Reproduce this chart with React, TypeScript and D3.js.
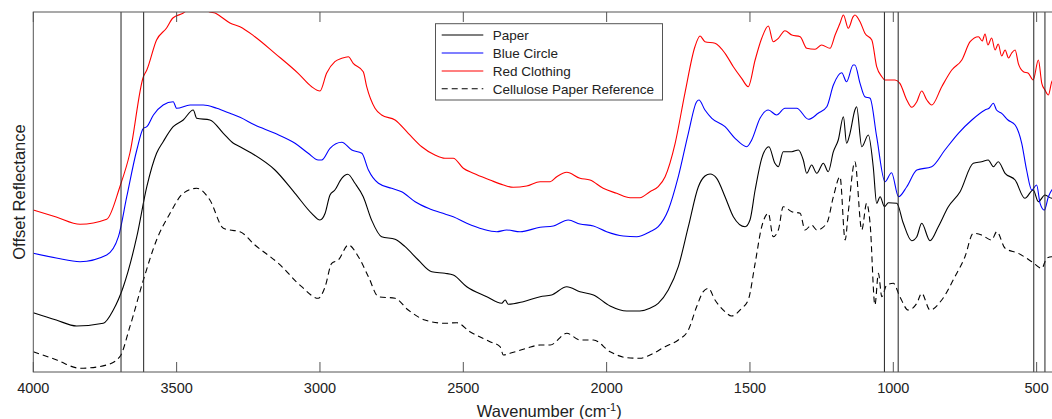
import React from 'react';
import * as d3 from 'd3';

type Pt = [number, number];

const xTicks = [4000, 3500, 3000, 2500, 2000, 1500, 1000, 500];
const markerLines = [3694, 3615, 1031, 983, 510, 471];
const seriesNames = ['Paper', 'Blue Circle', 'Red Clothing', 'Cellulose Paper Reference'];

const redClothing: Pt[] = [[4000,162],[3920,155],[3837,147.7],[3744,152.7],[3698,185.3],[3663,219],[3616,295.3],[3604,302],[3570,332],[3535,344],[3513,354],[3478,358.7],[3450,364],[3430,361],[3410,366],[3385,360],[3366,359],[3349,356],[3314,349],[3279,345.3],[3227,335.3],[3157,318.7],[3076,298.7],[3029,285.3],[3000,281],[2977,298.7],[2948,310.3],[2924,313.7],[2901,315.3],[2884,308.7],[2849,300.3],[2837,285.3],[2808,263.7],[2785,257],[2738,252],[2692,238.7],[2645,225.3],[2599,217],[2564,213.7],[2535,213.7],[2500,203.7],[2465,198.7],[2407,192],[2360,187],[2326,184.7],[2279,186],[2232,190.3],[2197,190.3],[2174,195.3],[2139,199.7],[2093,193.7],[2058,192],[2012,183.7],[1965,178.7],[1918,174.3],[1884,174.3],[1849,180.3],[1820,185.3],[1796,195.3],[1761,228.7],[1727,278.7],[1692,325.3],[1674,336],[1657,330.3],[1622,328.7],[1587,318.7],[1558,305.3],[1529,293.7],[1506,285.3],[1482,312],[1459,333.7],[1436,346],[1419,330.3],[1401,333.7],[1378,341.3],[1354,337],[1325,335.3],[1302,323.7],[1273,322.7],[1250,327],[1221,323.7],[1203,337],[1186,348.7],[1174,357],[1157,343.7],[1140,355.3],[1134,357],[1116,350.3],[1099,338.7],[1075,332],[1058,305.3],[1040,295.3],[1029,292],[994,292],[977,288.7],[953,272],[936,264.7],[918,270.3],[901,281],[883,272],[866,267],[831,285.3],[796,302],[761,312],[732,330.3],[703,335.3],[690,331],[680,338],[670,327],[657,334],[645,322],[634,328],[622,316],[610,322],[598,314],[587,319],[575,322],[564,308.7],[546,300.3],[529,298.7],[512,292],[494,312],[482,288.7],[471,282],[459,277],[447,290.3],[430,295]];

const blueCircle: Pt[] = [[4000,118.7],[3920,114],[3837,110.3],[3744,117],[3703,135.3],[3674,175.3],[3639,222],[3616,243.7],[3604,245.3],[3581,257],[3547,267],[3512,270.3],[3500,263.7],[3453,267],[3407,267],[3360,263.7],[3314,258.7],[3279,254.7],[3227,247],[3157,238.7],[3087,228.7],[3041,218.7],[3006,212],[2994,212],[2965,223.7],[2924,229.7],[2889,222],[2854,218.7],[2831,202],[2796,188.7],[2750,183.7],[2715,180.3],[2668,170.3],[2622,163.7],[2564,158],[2535,155.3],[2488,148.7],[2430,142.7],[2383,140.3],[2349,142],[2302,140.3],[2232,144.7],[2186,146],[2134,152],[2093,148],[2046,146],[2000,140.3],[1942,136],[1895,135.3],[1849,140.3],[1820,145.3],[1785,162],[1750,195.3],[1715,238.7],[1686,270.3],[1678,272],[1657,262],[1633,253.7],[1587,245.3],[1552,233.7],[1511,225.3],[1494,232],[1465,253.7],[1436,262],[1407,257],[1378,263.7],[1337,263.7],[1296,252.7],[1262,258.7],[1232,265.3],[1209,287],[1180,299.3],[1163,290.3],[1140,307],[1134,307],[1116,288.7],[1099,275.3],[1081,273.7],[1058,235.3],[1029,190.3],[1006,199.3],[982,175.3],[953,185.3],[918,202],[866,205.3],[820,222],[773,238.7],[726,252],[680,262],[665,264],[651,268.7],[640,262],[622,258.7],[600,252],[575,247],[552,228.7],[535,202],[517,182],[500,187],[488,168.7],[473,162],[459,175.3],[447,182],[430,185]];

const paper: Pt[] = [[4000,59.3],[3920,52],[3849,46],[3756,48.7],[3721,62],[3686,85.3],[3639,135.3],[3604,185.3],[3570,218.7],[3547,230.3],[3512,245.3],[3477,252],[3442,262],[3430,253.7],[3384,252],[3337,238.7],[3302,228.7],[3279,225.3],[3238,218.7],[3157,202],[3087,178.7],[3029,158.7],[3000,152],[2982,158.7],[2965,177],[2948,182],[2924,193.7],[2903,197.7],[2878,188.7],[2849,175.3],[2820,152],[2785,135.3],[2738,132.7],[2703,125.3],[2657,112],[2610,100.3],[2564,98.7],[2535,97],[2488,85.3],[2418,75.3],[2366,68.7],[2354,72],[2343,67.7],[2291,70.3],[2232,75.3],[2192,77],[2139,85.3],[2093,80.3],[2046,77],[1988,66],[1930,61],[1884,61],[1849,63.7],[1820,68.7],[1785,82],[1750,105.3],[1715,145.3],[1680,185.3],[1657,196],[1639,198],[1616,193.7],[1587,175.3],[1558,155.3],[1517,145.3],[1500,152],[1482,182],[1459,213.7],[1434,225.3],[1413,208.7],[1401,205.3],[1384,220.3],[1354,220.3],[1331,222],[1314,212],[1302,198.7],[1285,207],[1267,198.7],[1244,208.7],[1227,200.3],[1209,220.3],[1192,232],[1174,255.3],[1163,228.7],[1151,238.7],[1134,262],[1128,265.3],[1110,225.3],[1087,237],[1070,205.3],[1058,168.7],[1046,175.3],[1031,165.3],[1017,169.3],[988,168.7],[965,148.7],[936,131.3],[918,135.3],[901,148.7],[872,131.3],[843,145.3],[808,165.3],[767,180.3],[721,208.7],[692,210.3],[669,212],[651,205.3],[634,210.3],[610,198.7],[575,192],[541,173.7],[512,182],[494,170.3],[471,177],[447,173.7],[430,175]];

const celluloseRef: Pt[] = [[4000,20.3],[3918,12],[3837,3.7],[3744,7],[3698,15.3],[3663,45.3],[3616,92],[3570,132],[3523,158.7],[3477,178.7],[3430,183.7],[3384,172],[3337,143.7],[3314,142],[3279,140.3],[3227,127],[3145,108.7],[3064,85.3],[3006,73.7],[2982,85.3],[2959,108.7],[2936,112],[2901,127],[2866,115.3],[2831,95.3],[2796,75.3],[2738,73.7],[2692,62],[2634,52],[2564,48.7],[2523,49.3],[2477,40.3],[2407,30.3],[2372,25.3],[2360,17],[2337,18.7],[2279,23.7],[2232,27],[2197,27],[2139,38.7],[2093,32],[2046,32],[1988,20.3],[1930,14.3],[1884,13.7],[1849,17],[1796,25.3],[1750,32],[1715,42],[1686,65.3],[1663,80.3],[1645,83.7],[1622,72],[1587,60.3],[1564,56],[1529,63.7],[1506,72],[1482,108.7],[1459,145.3],[1436,158.7],[1419,135.3],[1401,142],[1384,165.3],[1354,160.3],[1325,158.7],[1308,142],[1285,147],[1267,142],[1232,148.7],[1209,175.3],[1186,195.3],[1168,132],[1157,160],[1134,210.3],[1110,142],[1093,168.7],[1081,148.7],[1064,67],[1052,98.7],[1040,75.3],[1023,87],[1000,88.7],[977,75.3],[948,62],[918,68.7],[901,78.7],[872,62],[831,72],[785,95.3],[750,115.3],[721,138.7],[692,137],[657,132],[639,140.3],[610,123.7],[564,118.7],[517,110.3],[482,103.7],[465,113.7],[447,115.3],[430,114]];

const seriesData = [paper, blueCircle, redClothing, celluloseRef];
const seriesColors = ['#000000', '#0000ff', '#ff0000', '#000000'];
const seriesDash = [null, null, null, '6,4'];

export default function App() {
  const W = 1052, H = 419;
  const left = 33.3, top = 12, bottom = 372, right = 1065.3;
  const x = d3.scaleLinear().domain([4000, 400]).range([left, right]);
  const y = d3.scaleLinear().domain([0, 360]).range([bottom, top]);
  const line = d3.line<Pt>().x(d => x(d[0])).y(d => y(d[1])).curve(d3.curveMonotoneX);
  const font = '"Liberation Sans", Arial, Helvetica, sans-serif';
  const axisColor = '#555';

  const legX = 435.5, legY = 23.7, legW = 227, legH = 76.3;
  const rowYs = [35, 53, 71, 88.7];

  return (
    <svg width={W} height={H} style={{ position: 'absolute', left: 0, top: 0, background: '#fff' }} fontFamily={font}>
      <defs>
        <clipPath id="plotClip">
          <rect x={left} y={top} width={right - left} height={bottom - top} />
        </clipPath>
      </defs>
      <rect x={0} y={0} width={W} height={H} fill="#fff" />
      <g clipPath="url(#plotClip)">
        {seriesData.map((d, i) => (
          <path key={i} d={line(d) || ''} fill="none" stroke={seriesColors[i]} strokeWidth={1.1}
            strokeDasharray={seriesDash[i] || undefined} strokeLinejoin="round" />
        ))}
        {markerLines.map((m, i) => (
          <line key={i} x1={x(m)} x2={x(m)} y1={top} y2={bottom} stroke="#222" strokeWidth={1} />
        ))}
      </g>
      <rect x={left} y={top} width={right - left} height={bottom - top} fill="none" stroke={axisColor} strokeWidth={1} />
      {xTicks.map(t => (
        <g key={t}>
          <line x1={x(t)} x2={x(t)} y1={bottom} y2={bottom - 10} stroke={axisColor} strokeWidth={1} />
          <line x1={x(t)} x2={x(t)} y1={top} y2={top + 10} stroke={axisColor} strokeWidth={1} />
          <text x={x(t)} y={392.5} textAnchor="middle" fontSize={14.5} fill="#222">{t}</text>
        </g>
      ))}
      <text x={(left + right) / 2} y={417} textAnchor="middle" fontSize={16.5} fill="#222">
        Wavenumber (cm<tspan dy={-6} fontSize={11}>-1</tspan><tspan dy={6}>)</tspan>
      </text>
      <text transform={`translate(24.5,${(top + bottom) / 2}) rotate(-90)`} textAnchor="middle" fontSize={16.5} fill="#222">
        Offset Reflectance
      </text>
      <g>
        <rect x={legX} y={legY} width={legW} height={legH} fill="#fff" stroke={axisColor} strokeWidth={1} />
        {seriesNames.map((n, i) => (
          <g key={n}>
            <line x1={441.7} x2={483.3} y1={rowYs[i]} y2={rowYs[i]} stroke={seriesColors[i]} strokeWidth={1.1}
              strokeDasharray={seriesDash[i] || undefined} />
            <text x={492.7} y={rowYs[i] + 4.8} fontSize={13.5} fill="#222">{n}</text>
          </g>
        ))}
      </g>
    </svg>
  );
}
